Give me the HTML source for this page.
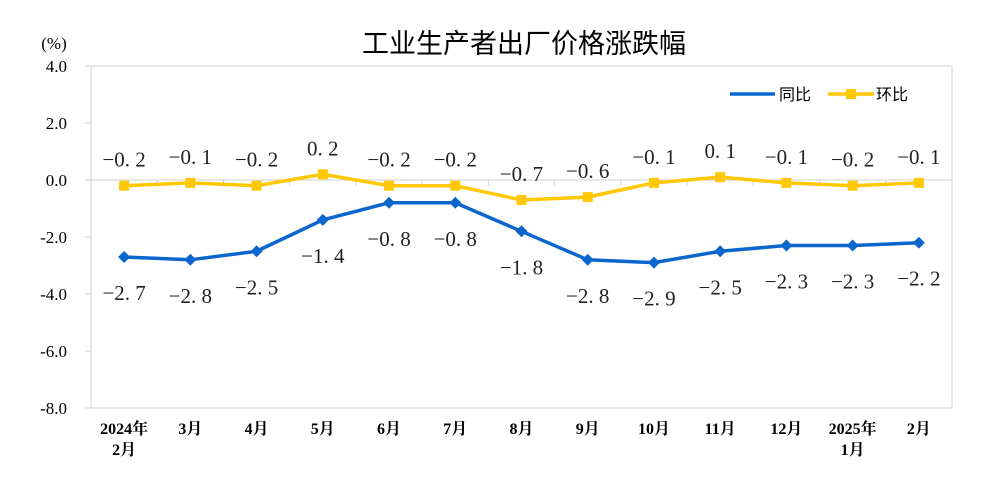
<!DOCTYPE html>
<html><head><meta charset="utf-8"><style>
body{margin:0;background:#fff;}
svg text{font-family:"Liberation Serif","Noto Serif CJK SC",serif;}
</style></head><body>
<svg id="c" width="990" height="492" xmlns="http://www.w3.org/2000/svg">
<text x="524" y="53" text-anchor="middle" font-size="27" fill="#000" style="font-family:'Noto Sans CJK SC',sans-serif">工业生产者出厂价格涨跌幅</text>
<text x="54" y="49" text-anchor="middle" font-size="17" fill="#000">(%)</text>
<rect x="91" y="66" width="861" height="342" fill="none" stroke="#d0d0d0" stroke-width="1"/>
<g id="grid"></g><g id="series"></g><g id="labels"></g>
<g>
<line x1="730" y1="94" x2="775" y2="94" stroke="#0a66cc" stroke-width="3.5"/>
<text x="779" y="100" font-size="16" style="font-family:'Noto Sans CJK SC',sans-serif">同比</text>
<line x1="828" y1="94" x2="874" y2="94" stroke="#ffc800" stroke-width="3.5"/>
<rect x="846" y="89" width="10" height="10" fill="#ffc800"/>
<text x="876" y="100" font-size="16" style="font-family:'Noto Sans CJK SC',sans-serif">环比</text>
</g>
</svg>
<script>
const categories=["2024年|2月","3月","4月","5月","6月","7月","8月","9月","10月","11月","12月","2025年|1月","2月"];
const yoy=[-2.7,-2.8,-2.5,-1.4,-0.8,-0.8,-1.8,-2.8,-2.9,-2.5,-2.3,-2.3,-2.2];
const mom=[-0.2,-0.1,-0.2,0.2,-0.2,-0.2,-0.7,-0.6,-0.1,0.1,-0.1,-0.2,-0.1];
const yTicks=[4,2,0,-2,-4,-6,-8];
const NS="http://www.w3.org/2000/svg";
const L=91,R=952,T=66,B=408,ymax=4,ymin=-8;
const bw=(R-L)/categories.length;
function xs(i){return L+bw*(i+0.5);}
function ys(v){return T+(ymax-v)/(ymax-ymin)*(B-T);}
function mk(tag,attrs,parent){const e=document.createElementNS(NS,tag);for(const k in attrs)e.setAttribute(k,attrs[k]);parent.appendChild(e);return e;}
const grid=document.getElementById('grid'),series=document.getElementById('series'),labels=document.getElementById('labels');
yTicks.forEach(v=>{
 const t=mk('text',{x:L-24,y:ys(v)+6,'text-anchor':'end','font-size':17,fill:'#000'},grid);
 t.textContent=v.toFixed(1);
 
 
 const l=mk('line',{x1:L-6,x2:L,y1:ys(v),y2:ys(v),stroke:'#d0d0d0'},grid);
 
 
});
const zl=mk('line',{x1:L,x2:R,y1:ys(0),y2:ys(0),stroke:'#d0d0d0'},grid);


categories.forEach((c,i)=>{
 if(i>0){const tk=mk('line',{x1:L+bw*i,x2:L+bw*i,y1:ys(0),y2:ys(0)+6,stroke:'#d0d0d0'},grid);
 
 }
 c.split('|').forEach((p,j)=>{
  const t=mk('text',{x:xs(i),y:434+j*21,'text-anchor':'middle','font-size':16,'font-weight':'bold',fill:'#000'},grid);
  t.textContent=p;
  
  
 });
});
function draw(data,color,name,shape,dy){
 const pl=mk('polyline',{points:data.map((v,i)=>xs(i)+','+ys(v)).join(' '),fill:'none',stroke:color,'stroke-width':3.5},series);
 
 
 data.forEach((v,i)=>{
  let m;
  if(shape==='sq')m=mk('rect',{x:xs(i)-5,y:ys(v)-5,width:10,height:10,fill:color},series);
  else m=mk('polygon',{points:`${xs(i)},${ys(v)-6} ${xs(i)+6},${ys(v)} ${xs(i)},${ys(v)+6} ${xs(i)-6},${ys(v)}`,fill:color},series);
  
  
  const t=mk('text',{x:xs(i),y:ys(v)+dy,'text-anchor':'middle','font-size':21,fill:'#222'},labels);
  t.textContent=(v<0?'−':'')+Math.abs(v).toFixed(1).replace('.','. ');
  
  
 });
}
draw(mom,'#ffc800','mom','sq',-19);
draw(yoy,'#0a66cc','yoy','dia',43);
</script>
</body></html>
